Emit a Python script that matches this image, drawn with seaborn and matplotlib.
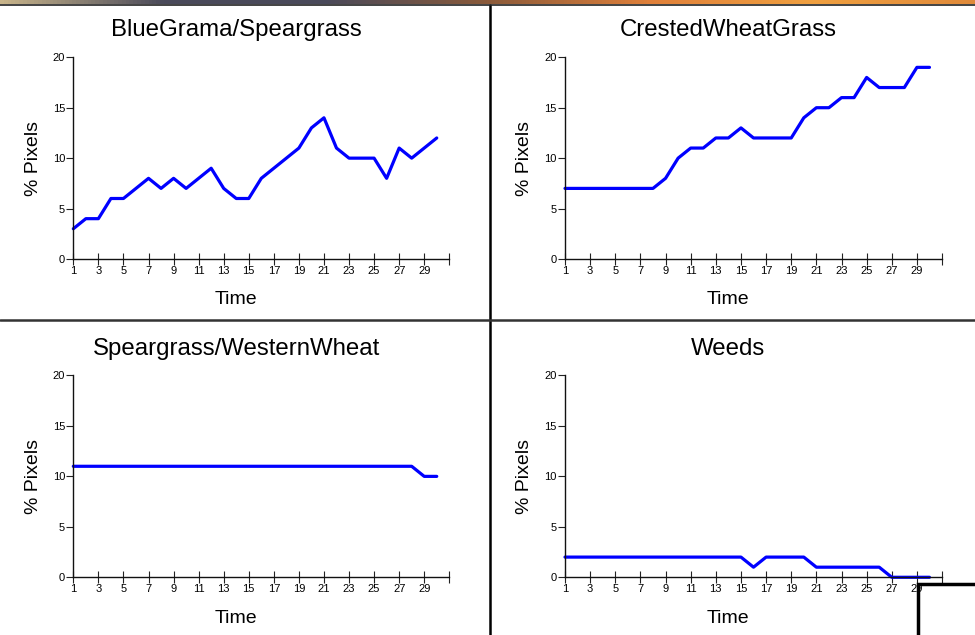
import numpy as np
import pandas as pd
import seaborn as sns
import matplotlib.pyplot as plt
from matplotlib.lines import Line2D
from matplotlib.colors import LinearSegmentedColormap

#### Data
time = list(range(1, 31))
blue_grama = [3, 4, 4, 6, 6, 7, 8, 7, 8, 7, 8, 9, 7, 6, 6, 8, 9, 10, 11, 13,
              14, 11, 10, 10, 10, 8, 11, 10, 11, 12]
crested_wheat = [7, 7, 7, 7, 7, 7, 7, 7, 8, 10, 11, 11, 12, 12, 13, 12, 12, 12, 12, 14,
                 15, 15, 16, 16, 18, 17, 17, 17, 19, 19]
spear_western = [11] * 28 + [10, 10]
weeds = [2] * 15 + [1, 2, 2, 2, 2, 1, 1, 1, 1, 1, 1, 0, 0, 0, 0]

titles = ["BlueGrama/Speargrass", "CrestedWheatGrass", "Speargrass/WesternWheat", "Weeds"]
series = [blue_grama, crested_wheat, spear_western, weeds]
xticks = list(range(1, 32, 2))
xlabels = [str(t) for t in range(1, 30, 2)] + [""]
yticks = [0, 5, 10, 15, 20]

sns.set_style("white")
plt.rcParams['font.family'] = ['Liberation Sans', 'DejaVu Sans']
plt.rcParams['text.color'] = 'black'
plt.rcParams['axes.labelcolor'] = 'black'
plt.rcParams['xtick.color'] = 'black'
plt.rcParams['ytick.color'] = 'black'

fig = plt.figure(figsize=(9.75, 6.35), dpi=100)

# axes boxes in figure fractions
boxes = [[0.0752, 0.5921, 0.3856, 0.3177],
         [0.5795, 0.5921, 0.3867, 0.3177],
         [0.0752, 0.0909, 0.3856, 0.3178],
         [0.5795, 0.0909, 0.3867, 0.3178]]

for box, title, vals in zip(boxes, titles, series):
    ax = fig.add_axes(box)
    df = pd.DataFrame({"Time": time, "% Pixels": vals})
    sns.lineplot(data=df, x="Time", y="% Pixels", ax=ax, color="#0000ff",
                 linewidth=2.3, clip_on=False)
    ax.set_xlim(1, 31)
    ax.set_ylim(0, 20)
    ax.set_xticks(xticks)
    ax.set_xticklabels(xlabels)
    ax.set_yticks(yticks)
    ax.tick_params(axis="x", direction="inout", length=8, width=0.8, labelsize=8,
                   pad=1, color="#222222", bottom=True)
    ax.tick_params(axis="y", direction="out", length=5, width=0.8, labelsize=8,
                   pad=1, color="#222222", left=True)
    for s in ["top", "right"]:
        ax.spines[s].set_visible(False)
    for s in ["left", "bottom"]:
        ax.spines[s].set_color("#111111")
        ax.spines[s].set_linewidth(1.0)
    ax.set_title(title, fontsize=17.3, pad=15, x=0.433, color="black")
    ax.set_xlabel("Time", fontsize=14, labelpad=11, x=0.433)
    ax.set_ylabel("% Pixels", fontsize=14, labelpad=8)
    ax.set_facecolor("white")

# panel dividers of the original window
fig.add_artist(Line2D([490 / 975, 490 / 975], [0, 1 - 5 / 635], color="black", lw=1.8))
fig.add_artist(Line2D([0, 1], [1 - 320 / 635, 1 - 320 / 635], color="#333333", lw=1.8))
fig.add_artist(Line2D([0, 1], [1 - 4.5 / 635, 1 - 4.5 / 635], color="#222222", lw=1.2))

# thin title-bar gradient at the very top
bar = fig.add_axes([0, 1 - 4 / 635, 1, 4 / 635])
grad = np.linspace(0, 1, 256).reshape(1, -1)
bar_cmap = LinearSegmentedColormap.from_list(
    "bar", ["#c8b48a", "#4a4a5a", "#4a4a5a", "#8a5a3a", "#e0803a", "#f0a040", "#e08a3a"])
bar.imshow(grad, aspect="auto", cmap=bar_cmap)
bar.axis("off")

# corner of an overlapping window, bottom right
fig.add_artist(Line2D([918 / 975, 918 / 975, 1], [0, 1 - 584 / 635, 1 - 584 / 635],
                      color="black", lw=2.5, solid_joinstyle="miter"))

fig.savefig("out.png", dpi=100, facecolor="white")
